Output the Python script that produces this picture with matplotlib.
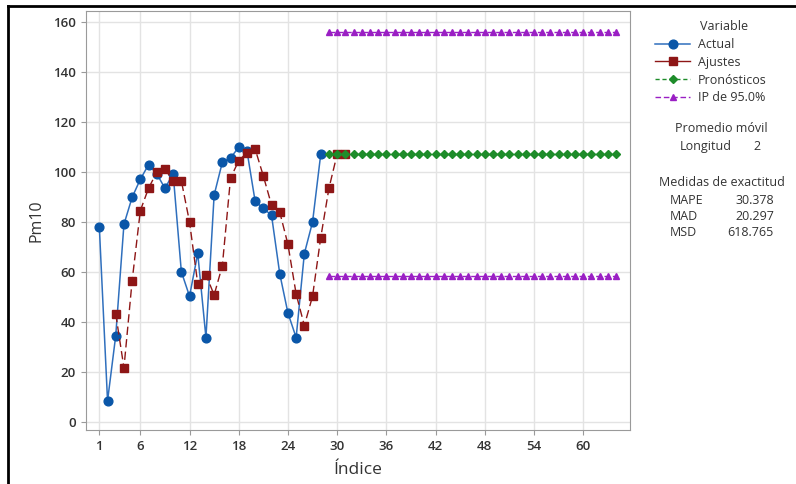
import matplotlib.pyplot as plt
from matplotlib.lines import Line2D

plt.rcParams['font.family'] = ['Open Sans', 'DejaVu Sans']

# datos
indice_actual = list(range(1, 29))
actual = [77.9, 8.6, 34.7, 79.1, 89.9, 97.1, 102.9, 99.3, 93.5, 99.3,
          60.2, 50.4, 67.5, 33.9, 90.8, 103.9, 105.6, 109.9, 108.5, 88.3,
          85.5, 82.7, 59.4, 43.7, 33.9, 67.4, 80.0, 107.1]

indice_ajustes = list(range(3, 32))
ajustes = [43.3, 21.8, 56.6, 84.6, 93.5, 99.9, 101.1, 96.5, 96.5, 80.0,
           55.4, 59.0, 50.9, 62.6, 97.6, 104.5, 107.7, 109.2, 98.4, 86.8,
           84.0, 71.1, 51.3, 38.7, 50.4, 73.8, 93.5, 107.1, 107.1]

indice_pron = list(range(29, 65))
pronosticos = [107.1] * len(indice_pron)
ip_sup = [155.8] * len(indice_pron)
ip_inf = [58.4] * len(indice_pron)

xticks = [1, 6, 12, 18, 24, 30, 36, 42, 48, 54, 60]
yticks = [0, 20, 40, 60, 80, 100, 120, 140, 160]

azul = '#0a56a8'
rojo = '#8e1616'
verde = '#1e8c2a'
morado = '#9a1fc4'
texto = '#333333'

fig = plt.figure(figsize=(7.96, 4.84), dpi=100)
ax = fig.add_axes([0.1077, 0.1116, 0.6838, 0.8663])

ax.plot(indice_actual, actual, color='#2f6fbd', lw=1.1, marker='o', ms=6.3,
        mfc=azul, mec=azul, zorder=3)
ax.plot(indice_ajustes, ajustes, color=rojo, lw=1.0, dashes=(6, 3), marker='s', ms=5.5,
        mfc=rojo, mec=rojo, zorder=4)
ax.plot(indice_pron, pronosticos, color=verde, lw=1.0, dashes=(3, 2), marker='D', ms=4,
        mfc=verde, mec=verde, zorder=5)
ax.plot(indice_pron, ip_sup, color=morado, lw=1.0, dashes=(4, 2), marker='^', ms=5,
        mfc=morado, mec=morado, zorder=5)
ax.plot(indice_pron, ip_inf, color=morado, lw=1.0, dashes=(4, 2), marker='^', ms=5,
        mfc=morado, mec=morado, zorder=5)

ax.set_xlim(-0.66, 65.72)
ax.set_ylim(-3.0, 164.4)
ax.set_xticks(xticks)
ax.set_yticks(yticks)
ax.grid(True, color='#e3e3e3', lw=1.0)
ax.set_axisbelow(True)
for s in ax.spines.values():
    s.set_color('#9a9a9a')
ax.tick_params(colors='#9a9a9a', length=3.5, labelcolor=texto, labelsize=9.5)
for lab in ax.get_xticklabels() + ax.get_yticklabels():
    lab.set_fontweight('semibold')

ax.set_xlabel('Índice', fontsize=12.5, color=texto, labelpad=7)
ax.set_ylabel('Pm10', fontsize=11.5, color=texto, labelpad=6)

# leyenda
handles = [
    Line2D([], [], color='#2f6fbd', lw=1.1, marker='o', ms=6.3, mfc=azul, mec=azul),
    Line2D([], [], color=rojo, lw=1.0, marker='s', ms=5.5, mfc=rojo, mec=rojo),
    Line2D([], [], color=verde, lw=1.0, dashes=(3, 2), marker='D', ms=4, mfc=verde, mec=verde),
    Line2D([], [], color=morado, lw=1.0, dashes=(4, 2), marker='^', ms=5, mfc=morado, mec=morado),
]
labels = ['Actual', 'Ajustes', 'Pronósticos', 'IP de 95.0%']
fig.text(700 / 796, 1 - 26 / 484, 'Variable', fontsize=9, color=texto, va='center')
fig.legend(handles, labels, loc='upper left', bbox_to_anchor=(655 / 796, 1 - 38 / 484),
           frameon=False, fontsize=9, handlelength=2.8, handletextpad=0.6,
           labelspacing=0.38, borderpad=0, borderaxespad=0, labelcolor=texto)

fig.text(721 / 796, 1 - 128 / 484, 'Promedio móvil', fontsize=9, color=texto,
         ha='center', va='center')
fig.text(680 / 796, 1 - 147 / 484, 'Longitud', fontsize=9, color=texto, va='center')
fig.text(761 / 796, 1 - 147 / 484, '2', fontsize=9, color=texto, ha='right', va='center')

fig.text(722 / 796, 1 - 183 / 484, 'Medidas de exactitud', fontsize=9, color=texto,
         ha='center', va='center')
medidas = ['MAPE', 'MAD', 'MSD']
valores = ['30.378', '20.297', '618.765']
for i, (m, v) in enumerate(zip(medidas, valores)):
    y = 1 - (200 + 16.5 * i) / 484
    fig.text(670 / 796, y, m, fontsize=9, color=texto, va='center')
    fig.text(774 / 796, y, v, fontsize=9, color=texto, ha='right', va='center')

# borde de la captura
fig.add_artist(Line2D([8 / 796, 8 / 796], [0, 1 - 6 / 484], color='black', lw=2))
fig.add_artist(Line2D([8 / 796, 1], [1 - 6 / 484, 1 - 6 / 484], color='black', lw=2))

fig.savefig('out.png', dpi=100)
